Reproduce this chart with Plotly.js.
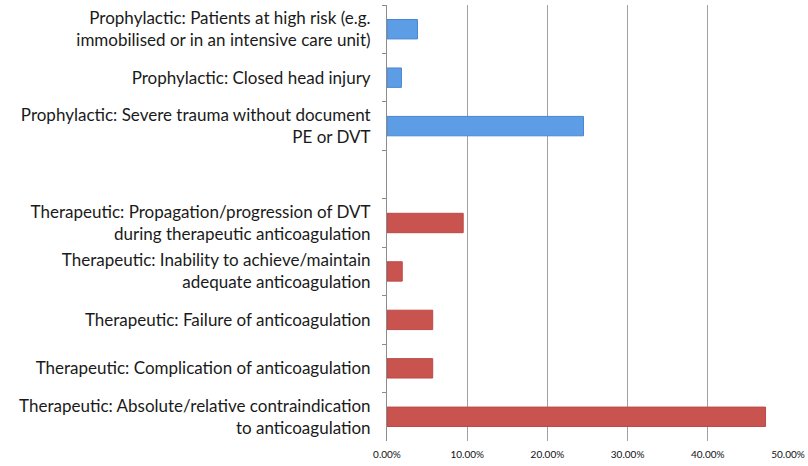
<!DOCTYPE html>
<html>
<head>
<meta charset="utf-8">
<script src="https://cdn.plot.ly/plotly-3.0.1.min.js"></script>
<style>html,body{margin:0;padding:0;background:#fff;}#chart{width:808px;height:466px;}</style>
</head>
<body>
<div id="chart"></div>
<script>
// Categories, top to bottom (a blank slot separates the two groups)
var categories = [
  "Prophylactic: Patients at high risk (e.g.<br>immobilised or in an intensive care unit)",
  "Prophylactic: Closed head injury",
  "Prophylactic: Severe trauma without document<br>PE or DVT",
  " ",
  "Therapeutic: Propagation/progression of DVT<br>during therapeutic anticoagulation",
  "Therapeutic: Inability to achieve/maintain<br>adequate anticoagulation",
  "Therapeutic: Failure of anticoagulation",
  "Therapeutic: Complication of anticoagulation",
  "Therapeutic: Absolute/relative contraindication<br>to anticoagulation"
];
var prophylacticCats = categories.slice(0, 3);
var prophylacticVals = [0.038, 0.018, 0.245];
var therapeuticCats = categories.slice(4);
var therapeuticVals = [0.095, 0.019, 0.057, 0.057, 0.472];
var xTicks = [0, 0.1, 0.2, 0.3, 0.4, 0.5];

var traces = [
  {type: "bar", orientation: "h", y: prophylacticCats, x: prophylacticVals, width: 0.4,
   marker: {color: "#5d9de6", line: {color: "#4a86d0", width: 1}}, hoverinfo: "x+y"},
  {type: "bar", orientation: "h", y: therapeuticCats, x: therapeuticVals, width: 0.4,
   marker: {color: "#c9534f", line: {color: "#bb4a46", width: 1}}, hoverinfo: "x+y"}
];

var layout = {
  width: 808, height: 466,
  margin: {l: 387, r: 20, t: 5, b: 25, pad: 0},
  paper_bgcolor: "#ffffff", plot_bgcolor: "#ffffff",
  showlegend: false,
  barmode: "overlay",
  font: {family: "Lato, 'Open Sans', sans-serif", color: "#1a1a1a"},
  xaxis: {
    range: [0, 0.5], tickvals: xTicks, tickformat: ".2%",
    showgrid: true, gridcolor: "#a0a0a0", gridwidth: 1,
    zeroline: false, showline: false, ticks: "",
    tickfont: {size: 10, color: "#111"}, ticklabelstandoff: 6, fixedrange: true
  },
  yaxis: {
    type: "category", categoryorder: "array", categoryarray: categories,
    range: [8.5, -0.5],
    showline: true, linecolor: "#8c8c8c", linewidth: 1,
    ticks: "outside", ticklen: 4, tickcolor: "#8c8c8c", tickson: "boundaries",
    showgrid: false, zeroline: false,
    tickfont: {size: 17, color: "#1a1a1a"}, ticklabelstandoff: 12, fixedrange: true
  }
};

Plotly.newPlot("chart", traces, layout, {displayModeBar: false, staticPlot: true});
</script>
</body>
</html>
